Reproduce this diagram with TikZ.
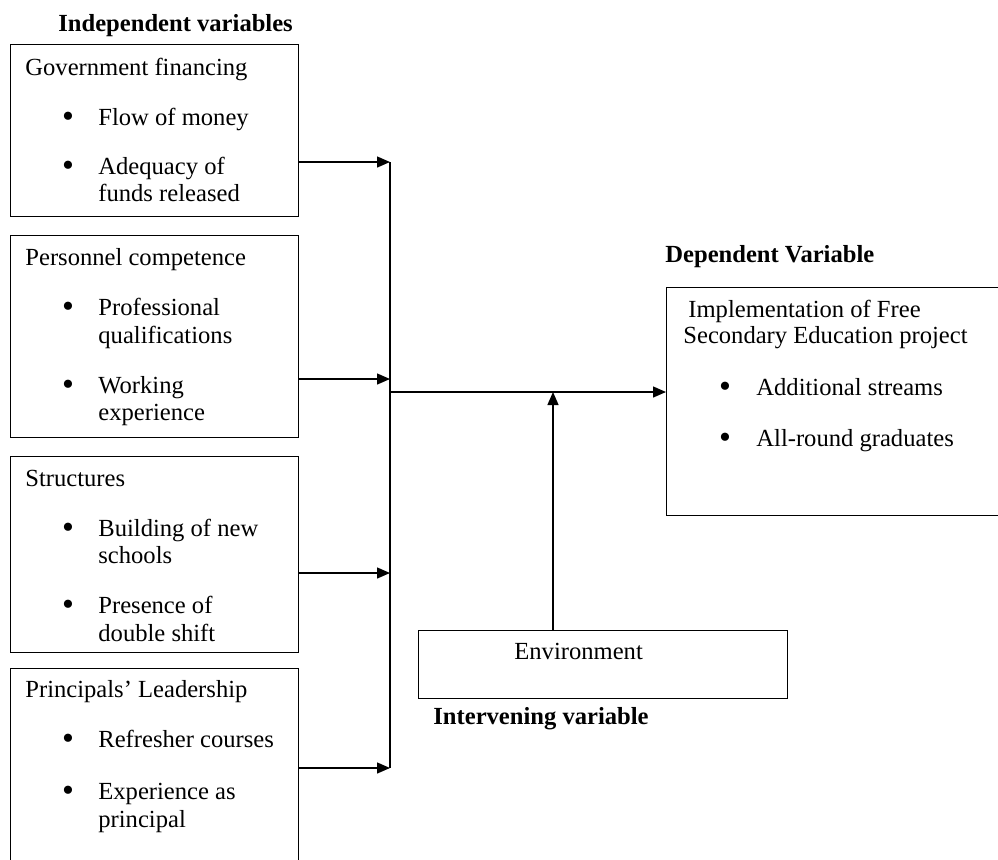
\documentclass[tikz,border=0pt]{standalone}
\usepackage{fontspec}
\setmainfont{Liberation Serif}
\usetikzlibrary{arrows.meta}

\tikzset{
  box/.style={draw, line width=0.7pt, anchor=north west, inner sep=0pt},
  txt/.style={anchor=base west, inner sep=0pt, font=\fontsize{12.3}{13.5}\selectfont},
  head/.style={anchor=base west, inner sep=0pt, font=\fontsize{12.3}{13.5}\selectfont\bfseries},
  dot/.style={anchor=base, inner sep=0pt, yshift=-1pt, font=\fontsize{17}{17}\selectfont},
  arr/.style={-{Triangle[length=6.5pt,width=5.5pt]}, line width=0.7pt},
}

\begin{document}
\begin{tikzpicture}[x=0.5pt, y=-0.5pt]
\useasboundingbox (0,0) rectangle (998,859);

% independent variables
\node[head] (indep) at (58,31) {Independent variables};

\node[box, minimum width=144pt, minimum height=86pt] (gov) at (10,44) {};
\node[txt] (govt) at (25,75) {Government financing};
\node[dot] (govd1) at (68,125) {•};
\node[txt] (gov1) at (98,125) {Flow of money};
\node[dot] (govd2) at (68,174) {•};
\node[txt] (gov2a) at (98,174) {Adequacy of};
\node[txt] (gov2b) at (98,201) {funds released};

\node[box, minimum width=144pt, minimum height=101pt] (pers) at (10,235) {};
\node[txt] (perst) at (25,265) {Personnel competence};
\node[dot] (persd1) at (68,315) {•};
\node[txt] (pers1a) at (98,315) {Professional};
\node[txt] (pers1b) at (98,343) {qualifications};
\node[dot] (persd2) at (68,393) {•};
\node[txt] (pers2a) at (98,393) {Working};
\node[txt] (pers2b) at (98,420) {experience};

\node[box, minimum width=144pt, minimum height=98pt] (struc) at (10,456) {};
\node[txt] (struct) at (25,486) {Structures};
\node[dot] (strucd1) at (68,536) {•};
\node[txt] (struc1a) at (98,536) {Building of new};
\node[txt] (struc1b) at (98,563) {schools};
\node[dot] (strucd2) at (68,613) {•};
\node[txt] (struc2a) at (98,613) {Presence of};
\node[txt] (struc2b) at (98,641) {double shift};

\node[box, minimum width=144pt, minimum height=106pt] (lead) at (10,668) {};
\node[txt] (leadt) at (25,697) {Principals’ Leadership};
\node[dot] (leadd1) at (68,747) {•};
\node[txt] (lead1) at (98,747) {Refresher courses};
\node[dot] (leadd2) at (68,799) {•};
\node[txt] (lead2a) at (98,799) {Experience as};
\node[txt] (lead2b) at (98,827) {principal};

% dependent variable
\node[head] (dep) at (665,262) {Dependent Variable};
\node[box, minimum width=170pt, minimum height=114pt] (fse) at (666,287) {};
\node[txt] (fset1) at (688,317) {Implementation of Free};
\node[txt] (fset2) at (683,343) {Secondary Education project};
\node[dot] (fsed1) at (725,395) {•};
\node[txt] (fse1) at (756,395) {Additional streams};
\node[dot] (fsed2) at (725,446) {•};
\node[txt] (fse2) at (756,446) {All-round graduates};

% intervening variable
\node[box, minimum width=184.5pt, minimum height=34pt] (env) at (418,630) {};
\node[txt] (envt) at (514,659) {Environment};
\node[head] (interv) at (433,724) {Intervening variable};

% connectors
\coordinate (j1) at (390,162);
\coordinate (j2) at (390,379);
\coordinate (j3) at (390,573);
\coordinate (j4) at (390,768);
\coordinate (jm) at (390,392);
\coordinate (up) at (553,392);

\draw[arr] (gov.east |- j1) -- (j1);
\draw[arr] (pers.east |- j2) -- (j2);
\draw[arr] (struc.east |- j3) -- (j3);
\draw[arr] (lead.east |- j4) -- (j4);
\draw[line width=0.7pt] (j1) -- (j4);
\draw[arr] (jm) -- (fse.west |- jm);
\draw[arr] (env.north -| up) -- (up);
\end{tikzpicture}
\end{document}
